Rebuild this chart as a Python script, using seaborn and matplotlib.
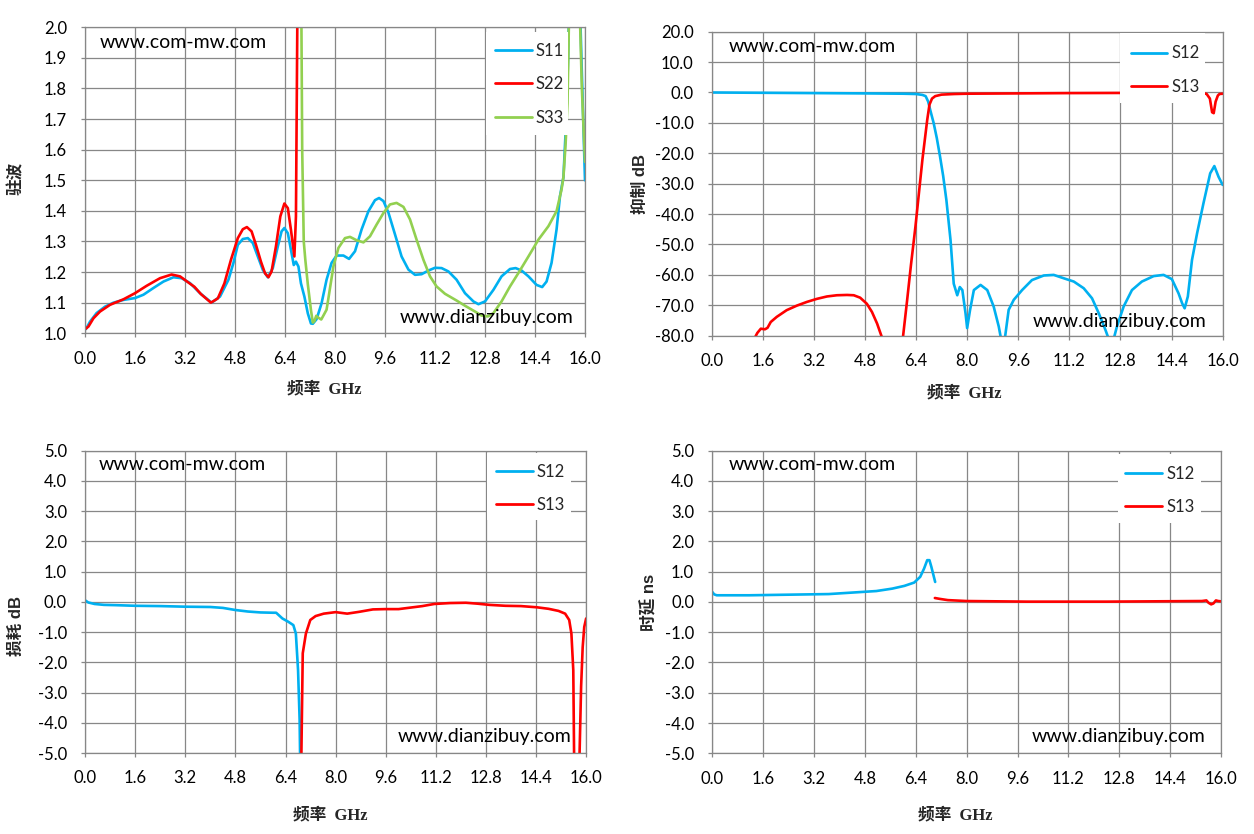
import matplotlib
matplotlib.use('Agg')
import matplotlib.pyplot as plt
import seaborn as sns
from matplotlib.patches import Rectangle
from matplotlib.lines import Line2D
from matplotlib.ticker import FormatStrFormatter

sns.set_theme(style='white')
plt.rcParams['font.family'] = ['Lato', 'Noto Sans CJK SC', 'DejaVu Sans']
plt.rcParams['axes.unicode_minus'] = False

BLUE = '#00B0F0'
RED = '#FF0000'
GREEN = '#92D050'
GRID = '#878787'

# ---------------- 驻波 (VSWR) ----------------
vswr_s11_f = [0.0, 0.03, 0.16, 0.37, 0.64, 0.91, 1.23, 1.6, 1.87, 2.19, 2.51, 2.83, 3.09, 3.36, 3.68,
              4.05, 4.32, 4.59, 4.75, 4.89, 5.05, 5.21, 5.37, 5.53, 5.69, 5.85, 6.01, 6.17, 6.29, 6.38,
              6.49, 6.59, 6.68, 6.75, 6.83, 6.91, 7.02, 7.13, 7.23, 7.29, 7.41, 7.57, 7.73, 7.89, 8.05,
              8.27, 8.45, 8.64, 8.85, 9.07, 9.28, 9.41, 9.55, 9.71, 9.92, 10.13, 10.35, 10.56, 10.77,
              10.99, 11.2, 11.41, 11.63, 11.89, 12.16, 12.43, 12.59, 12.8, 13.07, 13.33, 13.6, 13.78,
              13.97, 14.19, 14.45, 14.63, 14.77, 14.93, 15.09, 15.2, 15.31, 15.4, 15.46, 15.5]
vswr_s11_v = [1.016, 1.014, 1.038, 1.066, 1.087, 1.100, 1.109, 1.115, 1.126, 1.148, 1.169, 1.183, 1.180,
              1.164, 1.131, 1.100, 1.120, 1.175, 1.230, 1.289, 1.308, 1.311, 1.295, 1.251, 1.207, 1.183,
              1.213, 1.284, 1.333, 1.344, 1.327, 1.273, 1.223, 1.234, 1.218, 1.163, 1.120, 1.065, 1.032,
              1.031, 1.046, 1.098, 1.175, 1.230, 1.254, 1.254, 1.243, 1.268, 1.339, 1.399, 1.435, 1.442,
              1.432, 1.394, 1.323, 1.251, 1.208, 1.191, 1.193, 1.205, 1.214, 1.213, 1.202, 1.175, 1.131,
              1.104, 1.095, 1.104, 1.142, 1.186, 1.210, 1.213, 1.205, 1.186, 1.158, 1.151, 1.169, 1.230,
              1.339, 1.448, 1.510, 1.700, 1.900, 2.100]
vswr_s11_tail_f = [15.83, 15.9, 16.0]
vswr_s11_tail_v = [2.10, 1.85, 1.50]

vswr_s22_f = [0.0, 0.11, 0.27, 0.48, 0.8, 1.23, 1.6, 1.97, 2.4, 2.77, 3.04, 3.36, 3.5, 3.71, 4.03, 4.25,
              4.46, 4.67, 4.89, 5.05, 5.18, 5.33, 5.47, 5.63, 5.76, 5.87, 5.97, 6.11, 6.25, 6.38, 6.49,
              6.59, 6.7, 6.75, 6.8]
vswr_s22_v = [1.013, 1.022, 1.049, 1.071, 1.093, 1.111, 1.131, 1.155, 1.180, 1.192, 1.186, 1.162, 1.152,
              1.128, 1.100, 1.114, 1.163, 1.240, 1.311, 1.340, 1.347, 1.333, 1.289, 1.234, 1.196, 1.183,
              1.202, 1.284, 1.382, 1.424, 1.409, 1.338, 1.251, 1.382, 2.100]

vswr_s33_f = [6.92, 6.95, 7.0, 7.05, 7.13, 7.23, 7.29, 7.34, 7.4, 7.48, 7.56, 7.64, 7.73, 7.79, 7.95, 8.11,
              8.32, 8.48, 8.69, 8.91, 9.12, 9.33, 9.55, 9.76, 9.97, 10.19, 10.4, 10.61, 10.83, 11.04,
              11.25, 11.52, 11.89, 12.16, 12.48, 12.69, 12.89, 13.07, 13.33, 13.6, 13.87, 14.19, 14.51,
              14.83, 15.09, 15.25, 15.31, 15.38, 15.44, 15.5]
vswr_s33_v = [2.100, 1.600, 1.300, 1.240, 1.160, 1.076, 1.035, 1.040, 1.057, 1.050, 1.045, 1.060, 1.077,
              1.115, 1.219, 1.279, 1.311, 1.315, 1.304, 1.297, 1.317, 1.355, 1.393, 1.421, 1.426, 1.413,
              1.372, 1.306, 1.240, 1.186, 1.153, 1.129, 1.107, 1.090, 1.071, 1.058, 1.055, 1.066, 1.104,
              1.153, 1.197, 1.251, 1.306, 1.350, 1.399, 1.470, 1.510, 1.620, 1.750, 2.100]
vswr_s33_tail_f = [15.82, 15.9, 16.0]
vswr_s33_tail_v = [2.10, 1.80, 1.56]

# ---------------- 抑制 dB ----------------
rej_s12_f = [0.0, 1.6, 3.2, 4.8, 6.0, 6.4, 6.6, 6.7, 6.78, 6.85, 6.95, 7.05, 7.15, 7.25, 7.35, 7.48, 7.58,
             7.69, 7.77, 7.85, 7.95, 8.0, 8.09, 8.21, 8.42, 8.63, 8.83, 8.99, 9.06, 9.18, 9.3, 9.46, 9.72,
             10.03, 10.4, 10.71, 11.02, 11.34, 11.65, 11.91, 12.12, 12.33, 12.43, 12.59, 12.69, 12.9,
             13.16, 13.47, 13.84, 14.15, 14.41, 14.62, 14.73, 14.81, 14.91, 15.04, 15.2, 15.4, 15.61,
             15.74, 15.87, 16.0]
rej_s12_v = [0.0, -0.1, -0.2, -0.3, -0.4, -0.5, -0.8, -1.2, -3.0, -6.0, -10.0, -15.0, -21.0, -27.5, -35.4,
             -48.6, -62.9, -66.7, -64.0, -65.0, -72.7, -77.5, -71.6, -65.0, -63.3, -65.0, -70.4, -77.0,
             -81.0, -81.0, -71.5, -68.2, -65.0, -61.7, -60.2, -60.0, -61.1, -62.2, -64.4, -67.7, -72.6,
             -78.1, -81.0, -81.0, -77.0, -70.4, -65.0, -62.2, -60.4, -60.0, -61.4, -66.1, -69.3, -71.0,
             -67.1, -55.1, -46.3, -36.4, -26.6, -24.2, -27.7, -30.4]

rej_s13_low_f = [1.36, 1.43, 1.54, 1.67, 1.75, 1.85, 2.04, 2.35, 2.67, 2.98, 3.29, 3.61, 3.92, 4.24, 4.45,
                 4.65, 4.86, 5.02, 5.18, 5.33]
rej_s13_low_v = [-80.5, -79.1, -77.7, -77.9, -77.4, -75.5, -73.8, -71.6, -70.1, -68.9, -67.9, -67.1, -66.7,
                 -66.6, -66.7, -67.5, -69.5, -72.2, -76.0, -80.5]
rej_s13_high_f = [5.99, 6.12, 6.24, 6.38, 6.6, 6.75, 6.82, 6.9, 7.0, 7.2, 7.6, 8.0, 9.6, 11.2, 12.8, 14.4,
                  15.4, 15.5, 15.6, 15.67, 15.72, 15.78, 15.85, 15.9, 16.0]
rej_s13_high_v = [-80.5, -68.4, -56.8, -44.2, -22.0, -9.0, -4.0, -2.0, -1.2, -0.7, -0.5, -0.4, -0.3, -0.2,
                  -0.15, -0.1, -0.2, -0.5, -2.0, -6.5, -6.8, -3.0, -1.0, -0.5, -0.4]

# ---------------- 损耗 dB ----------------
loss_s12_f = [0.0, 0.1, 0.3, 0.6, 1.0, 1.6, 2.4, 3.2, 4.0, 4.4, 4.8, 5.2, 5.6, 6.0, 6.1, 6.3, 6.49, 6.65,
              6.73, 6.8, 6.85, 6.87]
loss_s12_v = [0.05, -0.02, -0.07, -0.10, -0.11, -0.13, -0.14, -0.16, -0.17, -0.20, -0.27, -0.32, -0.35,
              -0.36, -0.36, -0.55, -0.66, -0.77, -1.05, -2.26, -3.9, -5.5]
loss_s13_f = [6.9, 6.95, 7.05, 7.19, 7.36, 7.62, 8.0, 8.37, 8.75, 9.19, 9.57, 10.01, 10.39, 10.77, 11.15,
              11.65, 12.16, 12.53, 12.91, 13.42, 13.92, 14.43, 14.8, 15.12, 15.33, 15.46, 15.53, 15.59,
              15.62, 15.7, 15.78, 15.84, 15.89, 15.94, 16.0]
loss_s13_v = [-5.5, -1.7, -1.05, -0.6, -0.47, -0.39, -0.34, -0.39, -0.33, -0.25, -0.24, -0.24, -0.19,
              -0.14, -0.07, -0.04, -0.03, -0.06, -0.10, -0.13, -0.14, -0.18, -0.23, -0.30, -0.39, -0.60,
              -1.05, -2.26, -5.5, -6.0, -5.5, -2.8, -1.5, -0.83, -0.55]

# ---------------- 时延 ns ----------------
delay_s12_f = [0.0, 0.06, 0.14, 1.16, 2.41, 3.66, 4.41, 5.16, 5.66, 6.04, 6.35, 6.54, 6.66, 6.76, 6.83,
               6.89, 6.95, 7.01]
delay_s12_v = [0.33, 0.25, 0.22, 0.22, 0.24, 0.26, 0.31, 0.36, 0.44, 0.53, 0.64, 0.83, 1.10, 1.38, 1.38,
               1.16, 0.91, 0.66]
delay_s13_f = [7.0, 7.16, 7.41, 8.0, 9.9, 12.4, 15.4, 15.54, 15.61, 15.69, 15.76, 15.84, 15.91, 16.0]
delay_s13_v = [0.13, 0.10, 0.06, 0.03, 0.01, 0.01, 0.03, 0.05, -0.03, -0.08, -0.05, 0.05, 0.03, 0.02]

freq_ticks = [0.0, 1.6, 3.2, 4.8, 6.4, 8.0, 9.6, 11.2, 12.8, 14.4, 16.0]


def style_axis(ax, ylim, ystep):
    ax.set_xlim(0, 16)
    ax.set_ylim(*ylim)
    ax.set_xticks(freq_ticks)
    n = int(round((ylim[1] - ylim[0]) / ystep))
    ax.set_yticks([ylim[0] + i * ystep for i in range(n + 1)])
    ax.xaxis.set_major_formatter(FormatStrFormatter('%.1f'))
    ax.yaxis.set_major_formatter(FormatStrFormatter('%.1f'))
    ax.grid(True, color=GRID, linewidth=0.9)
    ax.set_axisbelow(True)
    for sp in ax.spines.values():
        sp.set_color(GRID)
        sp.set_linewidth(0.9)
    ax.tick_params(axis='both', direction='out', length=3, width=0.9, color=GRID,
                   labelsize=12, labelcolor='black')
    ax.tick_params(axis='x', pad=9.5, bottom=True)
    ax.tick_params(axis='y', pad=10, left=True)


def add_line(ax, f, v, color):
    sns.lineplot(x=f, y=v, ax=ax, color=color, linewidth=1.9, sort=False,
                 estimator=None, errorbar=None, legend=False)


def add_legend(ax, box, entries, anchor):
    # white box hides grid and curves behind the legend, like the original
    ax.add_patch(Rectangle((box[0], box[1]), box[2] - box[0], box[3] - box[1],
                           transform=ax.transAxes, facecolor='white', edgecolor='none', zorder=3))
    handles = [Line2D([0], [0], color=c, linewidth=2.0) for _, c in entries]
    ax.legend(handles, [n for n, _ in entries], loc='upper left', bbox_to_anchor=anchor,
              frameon=False, fontsize=12, handlelength=2.2, handletextpad=0.25,
              labelspacing=1.05, borderpad=0, borderaxespad=0)


def add_marks(ax, top, bottom):
    ax.text(top[0], top[1], 'www.com-mw.com', transform=ax.transAxes, ha='left', va='center',
            fontsize=14, color='black', zorder=4)
    ax.text(bottom[0], bottom[1], 'www.dianzibuy.com', transform=ax.transAxes, ha='right',
            va='center', fontsize=14, color='black', zorder=4)


def add_labels(ax, ylabel, ypos, xpos):
    ax.set_ylabel(ylabel, fontsize=12, fontweight='bold',
                  family=['Liberation Sans', 'Noto Sans CJK SC'])
    ax.yaxis.set_label_coords(*ypos)
    ax.yaxis.label.set_va('center')
    ax.set_xlabel('频率  GHz', fontsize=12, fontweight='bold',
                  family=['Liberation Serif', 'Noto Sans CJK SC'])
    ax.xaxis.set_label_coords(*xpos)
    ax.xaxis.label.set_va('center')


fig = plt.figure(figsize=(12.54, 8.34), dpi=100)
ax1 = fig.add_axes([0.0678, 0.6004, 0.3987, 0.3669])
ax2 = fig.add_axes([0.5675, 0.5975, 0.4075, 0.3645])
ax3 = fig.add_axes([0.0679, 0.0971, 0.3995, 0.3625])
ax4 = fig.add_axes([0.5680, 0.0968, 0.4057, 0.3629])

# 驻波
add_line(ax1, vswr_s11_f, vswr_s11_v, BLUE)
add_line(ax1, vswr_s11_tail_f, vswr_s11_tail_v, BLUE)
add_line(ax1, vswr_s22_f, vswr_s22_v, RED)
add_line(ax1, vswr_s33_f, vswr_s33_v, GREEN)
add_line(ax1, vswr_s33_tail_f, vswr_s33_tail_v, GREEN)
style_axis(ax1, (1.0, 2.0), 0.1)
add_legend(ax1, (0.802, 0.648, 0.967, 0.985), [('S11', BLUE), ('S22', RED), ('S33', GREEN)],
           (0.82, 0.95))
add_marks(ax1, (0.03, 0.949), (0.976, 0.05))
add_labels(ax1, '驻波', (-0.138, 0.507), (0.478, -0.182))

# 抑制
add_line(ax2, rej_s12_f, rej_s12_v, BLUE)
add_line(ax2, rej_s13_low_f, rej_s13_low_v, RED)
add_line(ax2, rej_s13_high_f, rej_s13_high_v, RED)
style_axis(ax2, (-80.0, 20.0), 10.0)
add_legend(ax2, (0.80, 0.766, 0.965, 0.997), [('S12', BLUE), ('S13', RED)], (0.82, 0.955))
add_marks(ax2, (0.033, 0.951), (0.968, 0.046))
add_labels(ax2, '抑制 dB', (-0.14, 0.5), (0.494, -0.19))

# 损耗
add_line(ax3, loss_s12_f, loss_s12_v, BLUE)
add_line(ax3, loss_s13_f, loss_s13_v, RED)
style_axis(ax3, (-5.0, 5.0), 1.0)
add_legend(ax3, (0.803, 0.77, 0.969, 0.993), [('S12', BLUE), ('S13', RED)], (0.82, 0.957))
add_marks(ax3, (0.027, 0.955), (0.97, 0.054))
add_labels(ax3, '损耗 dB', (-0.138, 0.42), (0.489, -0.205))

# 时延
add_line(ax4, delay_s12_f, delay_s12_v, BLUE)
add_line(ax4, delay_s13_f, delay_s13_v, RED)
style_axis(ax4, (-5.0, 5.0), 1.0)
add_legend(ax4, (0.798, 0.76, 0.961, 0.99), [('S12', BLUE), ('S13', RED)], (0.812, 0.95))
add_marks(ax4, (0.032, 0.955), (0.97, 0.054))
add_labels(ax4, '时延 ns', (-0.124, 0.5), (0.478, -0.205))

fig.savefig('out.png', dpi=100)
